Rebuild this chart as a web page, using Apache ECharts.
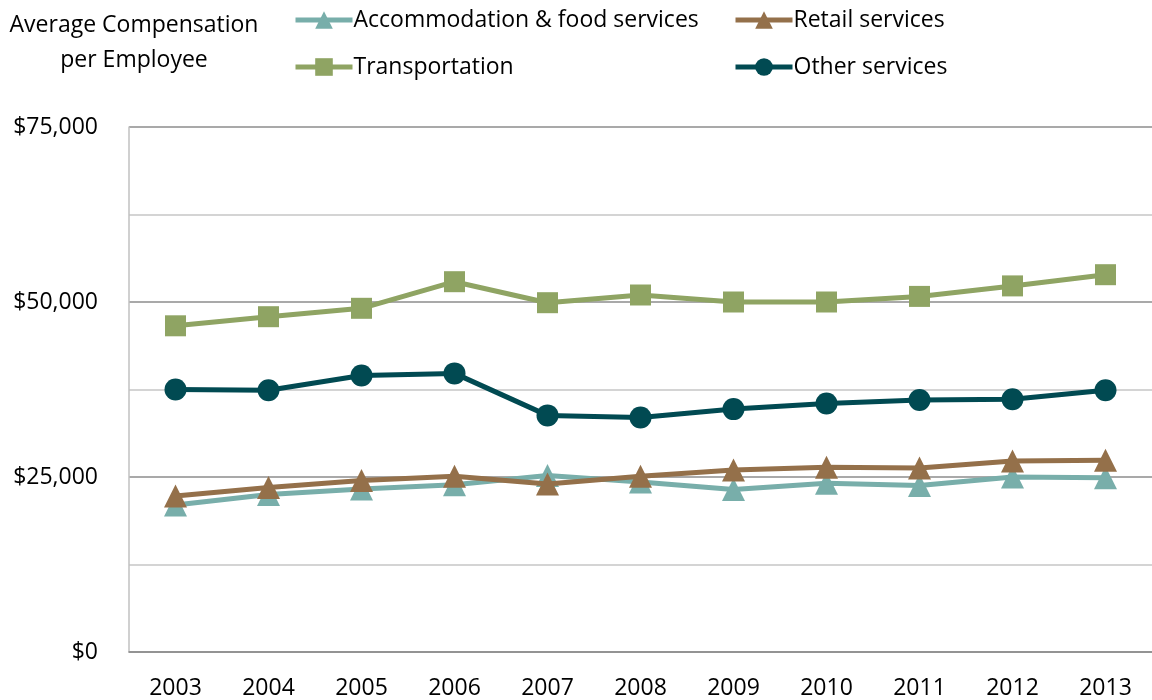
<!DOCTYPE html>
<html><head><meta charset="utf-8">
<script src="https://cdn.jsdelivr.net/npm/echarts@6/dist/echarts.min.js"></script>
<style>html,body{margin:0;padding:0;background:#fff}#c{width:1152px;height:700px}</style>
</head><body><div id="c"></div>
<script>
const years = ['2003','2004','2005','2006','2007','2008','2009','2010','2011','2012','2013'];
const accommodation = [21000,22500,23300,23900,25200,24300,23200,24100,23800,25000,24900];
const retail = [22300,23500,24500,25100,24000,25100,26000,26400,26300,27300,27400];
const transportation = [46600,47900,49100,52900,49900,51000,50000,50000,50800,52300,53900];
const otherServices = [37500,37400,39500,39800,33800,33500,34700,35500,36000,36100,37400];
const seriesNames = ['Accommodation & food services','Retail services','Transportation','Other services'];
const yTickLabels = ['$0','$25,000','$50,000','$75,000'];

const FONT = 'Open Sans';
const colors = ['#78aeaa','#94704a','#8fa463','#014a52'];
const symbols = ['triangle','triangle','rect','circle'];
const dataArr = [accommodation, retail, transportation, otherServices];

const chart = echarts.init(document.getElementById('c'));
const legendPos = [[293,8],[733,8],[293,55],[733,55]];
chart.setOption({
  animation:false,
  textStyle:{fontFamily:FONT},
  graphic:[{type:'text',x:134,y:8,style:{text:'Average Compensation\nper Employee',font:'23px "Open Sans"',fill:'#000',lineHeight:35,align:'center',verticalAlign:'top'}}],
  legend: seriesNames.map((n,i)=>({
    data:[n], left:legendPos[i][0], top:legendPos[i][1], padding:0, itemWidth:57, itemHeight:22, itemGap:0,
    lineStyle:{width:5},
    textStyle:{fontFamily:FONT,fontSize:23,color:'#000',lineHeight:24,padding:[0,0,0,-4]}
  })),
  grid:{left:129,top:127,bottom:48,right:-5},
  xAxis:{type:'category',data:years,boundaryGap:true,
    axisLine:{lineStyle:{color:'#8c8c8c',width:1.5}},axisTick:{show:false},
    axisLabel:{fontFamily:FONT,fontSize:23,color:'#000',margin:25}},
  yAxis:{type:'value',min:0,max:75000,interval:12500,
    axisLine:{show:true,lineStyle:{color:'#c0c0c0',width:1.5}},axisTick:{show:false},
    splitLine:{lineStyle:{color:['#8c8c8c','#c6c6c6'],width:1.5}},
    axisLabel:{fontFamily:FONT,fontSize:23,color:'#000',margin:31,
      formatter:v=> (v%25000===0) ? yTickLabels[v/25000] : ''}},
  series: seriesNames.map((n,i)=>({
    name:n,type:'line',data:dataArr[i],symbol:symbols[i],symbolSize:i===3?22:(i===2?21:23),
    lineStyle:{color:colors[i],width:5},itemStyle:{color:colors[i]},z:2+i
  }))
});
</script></body></html>
